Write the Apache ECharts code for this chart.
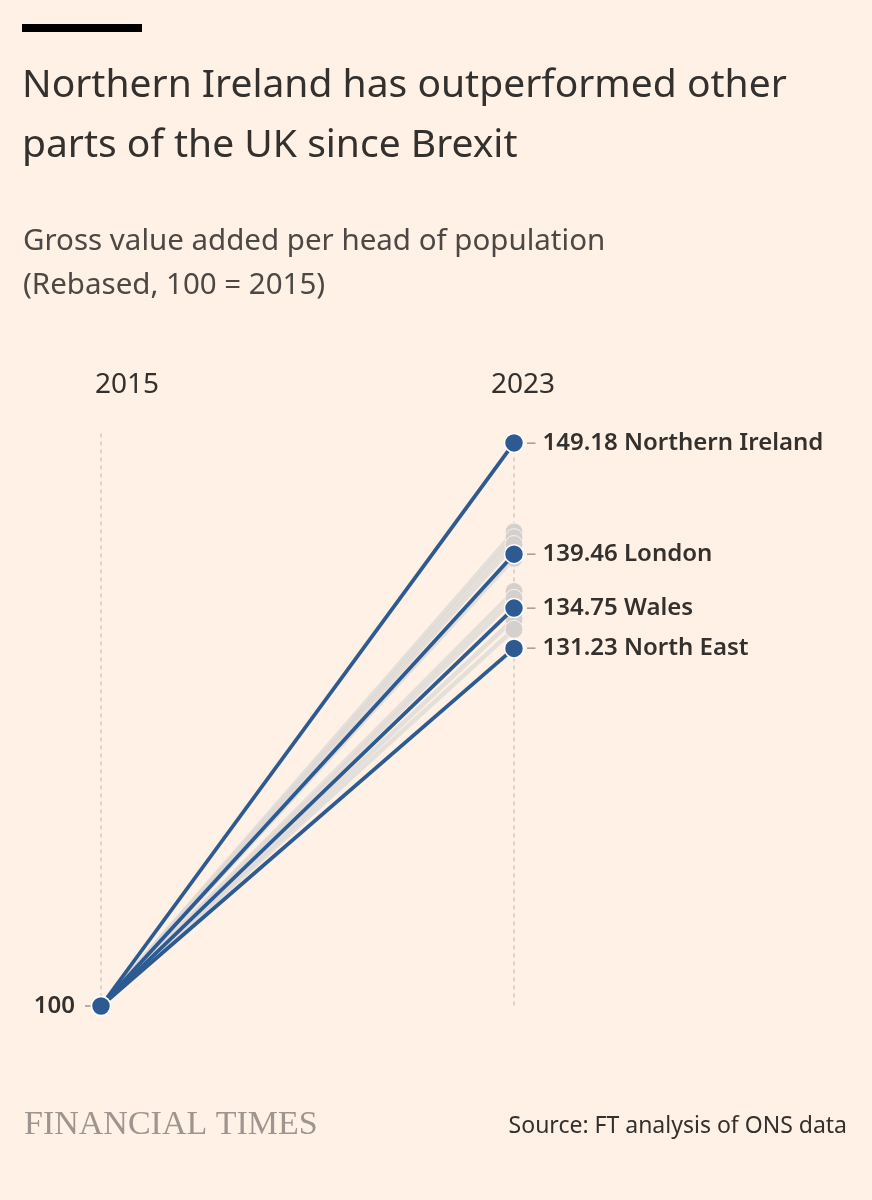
<!DOCTYPE html>
<html>
<head>
<meta charset="utf-8">
<script src="https://cdn.jsdelivr.net/npm/echarts@6/dist/echarts.min.js"></script>
<style>
  html, body { margin: 0; padding: 0; background: #fff1e5; }
  #main { width: 872px; height: 1200px; }
</style>
</head>
<body>
<div id="main"></div>
<script>
// years on the x axis
const years = ['2015', '2023'];

// highlighted regions (2023 value, rebased 2015 = 100)
const highlightNames = ['Northern Ireland', 'London', 'Wales', 'North East'];
const highlightValues = [149.18, 139.46, 134.75, 131.23];

// other regions, drawn in grey
const otherValues = [141.4, 140.9, 140.3, 139.1, 136.2, 135.6, 133.8, 132.9];

const baseValue = 100;

const blue = '#2d5a91';
const grey = '#dcd8d5';
const ink = '#33302e';
const font = 'Noto Sans';

var chart = echarts.init(document.getElementById('main'));

let series = [];

for (const v of otherValues) {
    series.push({
        type: 'line',
        data: [baseValue, v],
        symbol: 'circle',
        symbolSize: 18,
        z: 2,
        silent: true,
        lineStyle: { color: grey, width: 4.5, opacity: 0.75 },
        itemStyle: { color: '#d3d0ce', borderColor: '#fff1e5', borderWidth: 1 }
    });
}

highlightNames.forEach((name, i) => {
    series.push({
        type: 'line',
        name: name,
        data: [baseValue, {
            value: highlightValues[i],
            label: {
                show: true,
                position: 'right',
                distance: 2,
                formatter: '{d|–} ' + highlightValues[i].toFixed(2) + ' ' + name,
                color: ink,
                fontFamily: font,
                fontSize: 24,
                fontWeight: 600,
                rich: {
                    d: { color: '#a7a19d', fontSize: 20, fontWeight: 'normal' }
                }
            }
        }],
        symbol: 'circle',
        symbolSize: 19,
        z: 5,
        lineStyle: { color: blue, width: 3.8 },
        itemStyle: { color: blue, borderColor: '#ffffff', borderWidth: 1.5 }
    });
});

var option = {
    backgroundColor: '#fff1e5',
    animation: false,
    title: [
        {
            text: 'Northern Ireland has outperformed other\nparts of the UK since Brexit',
            left: 17,
            top: 51,
            textStyle: { fontFamily: font, fontSize: 39, fontWeight: 'normal', color: ink, lineHeight: 60 }
        },
        {
            text: 'Gross value added per head of population\n(Rebased, 100 = 2015)',
            left: 18,
            top: 215,
            textStyle: { fontFamily: font, fontSize: 29.5, fontWeight: 'normal', color: '#4d4845', lineHeight: 44 }
        },
        {
            text: 'FINANCIAL TIMES',
            left: 19,
            top: 1103,
            textStyle: { fontFamily: 'Liberation Serif', fontSize: 34, fontWeight: 'normal', color: '#9e9590' }
        },
        {
            text: 'Source: FT analysis of ONS data',
            right: 20,
            top: 1110,
            textStyle: { fontFamily: font, fontSize: 23, fontWeight: 'normal', color: ink }
        }
    ],
    graphic: [
        { type: 'rect', left: 22, top: 24, shape: { width: 120, height: 8 }, style: { fill: '#000000' } }
    ],
    grid: { left: 101, right: 358, top: 433.5, bottom: 194 },
    xAxis: {
        type: 'category',
        position: 'top',
        boundaryGap: false,
        data: [
            { value: years[0], textStyle: { padding: [0, 0, 0, 52] } },
            { value: years[1], textStyle: { padding: [0, 0, 0, 18] } }
        ],
        axisLine: { show: false },
        axisTick: { show: false },
        axisLabel: { color: ink, fontFamily: font, fontSize: 28, margin: 34 },
        splitLine: { show: true, lineStyle: { color: '#cfcac6', type: [4, 4], width: 1.5 } }
    },
    yAxis: {
        type: 'value',
        min: 100,
        max: 150,
        interval: 50,
        axisLine: { show: false },
        axisTick: { show: true, length: 16, customValues: [baseValue], lineStyle: { color: '#b5afab', width: 2 } },
        axisLabel: { customValues: [baseValue], color: ink, fontFamily: font, fontSize: 24, fontWeight: 600, margin: 26 },
        splitLine: { show: false }
    },
    series: series
};

chart.setOption(option);
</script>
</body>
</html>
